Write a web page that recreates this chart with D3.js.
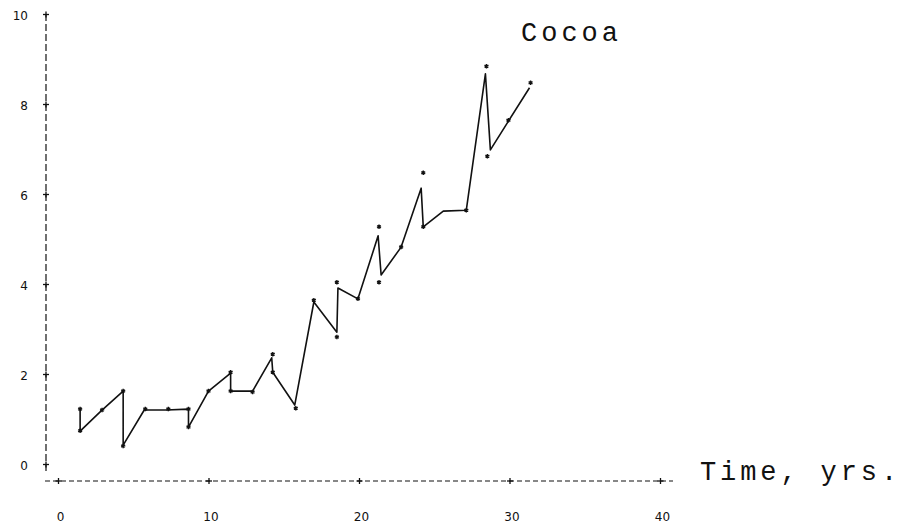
<!DOCTYPE html>
<html>
<head>
<meta charset="utf-8">
<script src="https://cdn.jsdelivr.net/npm/d3@7"></script>
<style>
  html, body { margin: 0; padding: 0; background: #fff; }
  svg { display: block; }
</style>
</head>
<body>
<svg id="chart" width="900" height="527"></svg>
<script>
// ---- data ----
const title = "Cocoa";
const xAxisLabel = "Time, yrs.";
const xTicks = [0, 10, 20, 30, 40];
const yTicks = [0, 2, 4, 6, 8, 10];

// polyline vertices (time in years, value)
const lineTimes  = [1.47, 1.47, 2.87, 4.33, 4.33, 5.73, 7.2, 8.67, 8.67, 10.0, 11.47, 11.47, 12.93, 14.2, 14.27, 15.73, 17.0, 18.53, 18.6, 19.93, 21.27, 21.47, 22.8, 24.13, 24.27, 25.6, 27.13, 28.4, 28.73, 29.93, 31.33];
const lineValues = [1.2, 0.73, 1.18, 1.62, 0.42, 1.2, 1.2, 1.22, 0.82, 1.62, 2.02, 1.62, 1.62, 2.36, 2.04, 1.31, 3.6, 2.93, 3.91, 3.67, 5.07, 4.2, 4.82, 6.13, 5.27, 5.62, 5.64, 8.67, 6.98, 7.62, 8.36];

// plotted point markers (time in years, value)
const markerTimes  = [1.47, 1.47, 2.93, 4.33, 4.33, 5.8, 7.33, 8.67, 8.67, 10.0, 11.47, 11.47, 12.93, 14.27, 14.27, 15.8, 17.0, 18.53, 18.53, 19.93, 21.33, 21.33, 22.8, 24.27, 24.27, 27.13, 28.47, 28.53, 29.93, 31.4];
const markerValues = [1.22, 0.74, 1.2, 1.62, 0.4, 1.22, 1.22, 1.22, 0.82, 1.62, 2.04, 1.62, 1.6, 2.44, 2.04, 1.24, 3.64, 2.82, 4.04, 3.67, 5.27, 4.04, 4.82, 6.47, 5.27, 5.64, 8.84, 6.84, 7.64, 8.47];

// ---- chart ----
const svg = d3.select("#chart");
const x = d3.scaleLinear().domain([0, 40]).range([58, 660]);
const y = d3.scaleLinear().domain([0, 10]).range([464, 14]);

const axisY = 481;   // position of the time axis
const axisX = 46;    // position of the value axis
const labelFont = "'DejaVu Sans', 'Liberation Sans', sans-serif";
const monoFont = "'Liberation Mono', 'DejaVu Sans Mono', monospace";

// dashed x-axis line
svg.append("line")
  .attr("x1", 45).attr("x2", 673)
  .attr("y1", axisY).attr("y2", axisY)
  .attr("stroke", "#111").attr("stroke-width", 1.2)
  .attr("stroke-dasharray", "5,3");

// dashed y-axis line
svg.append("line")
  .attr("x1", axisX).attr("x2", axisX)
  .attr("y1", 14).attr("y2", 471)
  .attr("stroke", "#111").attr("stroke-width", 1.2)
  .attr("stroke-dasharray", "7,3");

// x axis with "+" ticks
const gx = svg.append("g")
  .attr("transform", `translate(0,${axisY})`)
  .call(d3.axisBottom(x).tickValues(xTicks).tickFormat(d3.format("d")).tickSizeOuter(0));
gx.select(".domain").remove();
gx.selectAll(".tick line").attr("y1", -3).attr("y2", 3).attr("stroke", "#111").attr("stroke-width", 1.3);
gx.selectAll(".tick").append("line")
  .attr("x1", -3).attr("x2", 3).attr("y1", 0).attr("y2", 0)
  .attr("stroke", "#111").attr("stroke-width", 1.3);
gx.selectAll(".tick text")
  .attr("y", 40).attr("dy", "0")
  .attr("dx", "2")
  .attr("fill", "#111")
  .style("font-family", labelFont).style("font-size", "12px");

// y axis with "+" ticks
const gy = svg.append("g")
  .attr("transform", `translate(${axisX},0)`)
  .call(d3.axisLeft(y).tickValues(yTicks).tickFormat(d3.format("d")).tickSizeOuter(0));
gy.select(".domain").remove();
gy.selectAll(".tick line").attr("x1", -3).attr("x2", 3).attr("stroke", "#111").attr("stroke-width", 1.3);
gy.selectAll(".tick").append("line")
  .attr("x1", 0).attr("x2", 0).attr("y1", -3).attr("y2", 3)
  .attr("stroke", "#111").attr("stroke-width", 1.3);
gy.selectAll(".tick text")
  .attr("x", -18).attr("dy", "0.45em")
  .attr("fill", "#111")
  .style("font-family", labelFont).style("font-size", "12px");

// data line
const pts = lineTimes.map((t, i) => [t, lineValues[i]]);
svg.append("path")
  .datum(pts)
  .attr("fill", "none")
  .attr("stroke", "#111")
  .attr("stroke-width", 1.6)
  .attr("stroke-linejoin", "round")
  .attr("d", d3.line().x(d => x(d[0])).y(d => y(d[1])));

// markers
const mk = markerTimes.map((t, i) => [t, markerValues[i]]);
svg.append("g").selectAll("path")
  .data(mk)
  .join("path")
  .attr("transform", d => `translate(${x(d[0])},${y(d[1])})`)
  .attr("d", d3.symbol(d3.symbolAsterisk, 14))
  .attr("fill", "none")
  .attr("stroke", "#111")
  .attr("stroke-width", 1.4);

// title and axis label
svg.append("text")
  .attr("x", 521).attr("y", 41)
  .attr("fill", "#111")
  .style("font-family", monoFont)
  .style("font-size", "27px")
  .style("letter-spacing", "4px")
  .text(title);

svg.append("text")
  .attr("x", 700).attr("y", 480)
  .attr("fill", "#111")
  .style("font-family", monoFont)
  .style("font-size", "27px")
  .style("letter-spacing", "3.9px")
  .text(xAxisLabel);
</script>
</body>
</html>
